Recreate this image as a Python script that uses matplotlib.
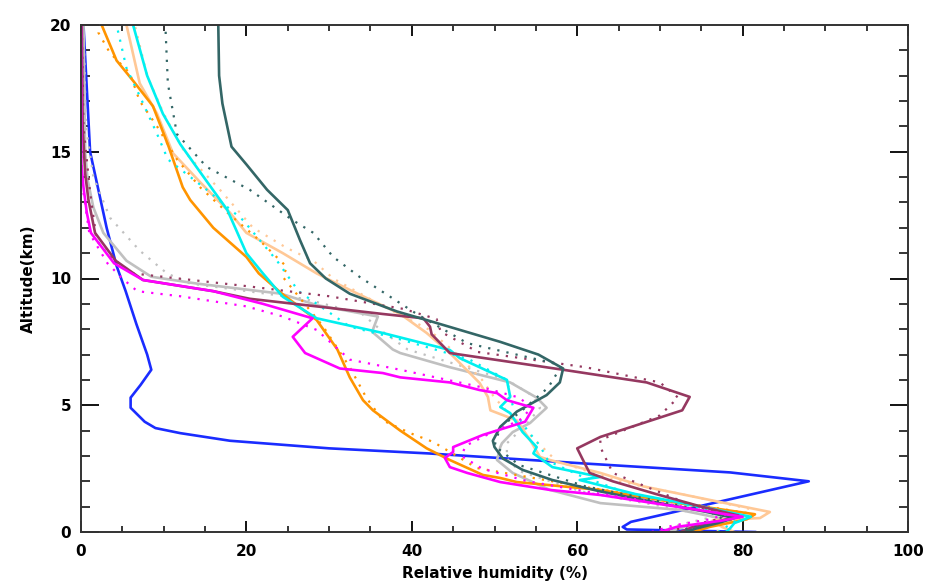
import matplotlib
matplotlib.use("Agg")
import matplotlib.pyplot as plt
from matplotlib.ticker import MultipleLocator

# ---------------- data (altitude km, relative humidity %) ----------------
blue_alt = [0.0, 0.1, 0.2, 0.4, 2.0, 2.35, 2.7, 3.1, 3.3, 3.45, 3.6, 3.9, 4.1, 4.35, 4.9, 5.3, 5.8, 6.4, 7.0, 8.2, 9.5, 10.5, 12.0, 15.0, 20.0]
blue_rh = [81.5, 66.0, 65.5, 66.5, 88.0, 78.5, 61.0, 42.0, 30.0, 24.0, 18.0, 12.0, 9.0, 7.7, 6.0, 6.0, 7.2, 8.5, 8.0, 6.7, 5.4, 4.3, 3.1, 1.1, 0.3]

slate_alt = [0.0, 0.15, 0.35, 0.55, 0.8, 1.2, 1.6, 2.05, 2.45, 2.9, 3.35, 3.6, 4.15, 4.75, 5.4, 5.9, 6.45, 7.0, 7.5, 8.36, 8.7, 9.4, 10.0, 10.6, 11.5, 12.7, 13.5, 14.5, 15.2, 16.9, 18.0, 20.0]
slate_rh = [73.0, 74.5, 77.0, 79.0, 75.5, 69.0, 62.8, 57.0, 53.4, 51.0, 50.0, 49.8, 50.7, 52.7, 56.3, 57.9, 58.3, 55.3, 50.7, 41.8, 38.2, 32.5, 29.6, 27.7, 26.5, 25.0, 22.5, 20.0, 18.2, 17.1, 16.7, 16.6]
slate_dot_alt = [0.0, 0.2, 0.45, 0.8, 1.3, 1.8, 2.64, 3.4, 4.15, 4.7, 5.7, 6.5, 6.67, 7.45, 8.6, 10.06, 10.85, 11.8, 12.3, 13.5, 14.4, 15.7, 17.7, 20.0]
slate_dot_rh = [72.0, 74.0, 78.0, 76.0, 68.5, 61.0, 53.0, 50.0, 50.7, 53.0, 56.5, 58.0, 57.0, 46.7, 40.6, 33.7, 30.5, 28.1, 25.6, 20.4, 15.2, 11.6, 10.5, 10.2]

maroon_alt = [0.0, 0.2, 0.45, 0.65, 1.0, 1.5, 2.0, 2.33, 2.84, 3.3, 3.75, 4.8, 5.33, 5.9, 6.4, 7.06, 7.8, 8.1, 8.43, 8.6, 8.9, 9.2, 9.5, 9.94, 10.7, 11.8, 13.1, 14.15, 16.0, 20.0]
maroon_rh = [72.5, 74.0, 77.5, 79.5, 75.0, 69.5, 64.3, 61.5, 60.7, 60.0, 62.8, 72.7, 73.6, 68.4, 58.3, 44.6, 42.4, 42.2, 41.4, 36.5, 28.5, 20.4, 16.0, 7.5, 4.2, 1.7, 0.9, 0.5, 0.2, 0.1]
maroon_dot_alt = [0.0, 0.25, 0.5, 0.7, 1.1, 1.78, 2.33, 3.35, 3.63, 4.6, 5.3, 5.9, 6.5, 7.1, 7.9, 8.4, 8.8, 9.3, 9.7, 10.2, 10.85, 11.5, 13.4, 16.0, 20.0]
maroon_dot_rh = [71.0, 73.5, 77.0, 78.0, 73.5, 68.4, 64.3, 62.8, 62.8, 70.0, 72.2, 70.0, 61.0, 48.0, 43.5, 43.0, 39.0, 30.0, 20.0, 6.3, 3.5, 1.9, 1.1, 0.3, 0.1]

grey_alt = [0.0, 0.2, 0.5, 0.87, 1.14, 1.66, 2.33, 2.84, 3.35, 3.5, 3.94, 4.3, 4.9, 5.3, 5.9, 6.5, 7.06, 7.2, 7.9, 8.5, 8.95, 9.4, 9.8, 10.07, 10.7, 11.8, 12.8, 13.9, 15.0, 20.0]
grey_rh = [71.0, 73.0, 78.0, 72.4, 62.8, 56.7, 52.2, 50.3, 50.7, 50.9, 52.2, 54.3, 56.3, 55.1, 51.9, 44.6, 38.6, 37.7, 35.2, 35.9, 28.5, 24.2, 14.0, 8.5, 5.5, 2.7, 1.5, 0.8, 0.5, 0.3]
grey_dot_alt = [0.0, 0.3, 0.6, 1.0, 1.6, 2.4, 2.9, 3.5, 4.3, 4.9, 5.4, 6.0, 6.6, 7.2, 7.9, 8.6, 9.2, 9.8, 10.2, 11.1, 12.4, 14.0, 16.0, 20.0]
grey_dot_rh = [70.0, 72.5, 76.5, 70.5, 60.5, 53.0, 51.5, 51.5, 54.0, 55.5, 54.5, 51.5, 45.5, 39.5, 36.5, 34.0, 27.0, 13.2, 10.4, 7.1, 3.5, 1.5, 0.6, 0.3]

magenta_alt = [0.0, 0.2, 0.45, 0.6, 1.0, 1.46, 1.66, 1.97, 2.33, 2.56, 2.92, 3.16, 3.35, 3.83, 4.35, 4.9, 5.2, 5.48, 5.6, 5.9, 6.1, 6.27, 6.45, 7.06, 7.7, 8.43, 9.0, 9.5, 9.94, 10.6, 11.8, 12.6, 13.6, 14.5, 20.0]
magenta_rh = [70.0, 72.0, 77.5, 80.0, 72.0, 62.8, 56.7, 50.7, 46.7, 44.6, 44.0, 45.0, 45.0, 48.6, 53.7, 54.7, 51.5, 50.3, 48.2, 44.6, 38.6, 36.5, 31.3, 27.1, 25.6, 28.0, 22.0, 16.0, 7.5, 4.0, 1.2, 0.7, 0.3, 0.05, 0.0]
magenta_dot_alt = [0.0, 0.25, 0.5, 0.7, 1.1, 1.6, 2.0, 2.5, 3.0, 3.4, 3.9, 4.4, 4.9, 5.3, 5.7, 6.4, 6.8, 7.97, 8.5, 8.9, 9.3, 9.5, 10.0, 10.6, 11.8, 13.6, 15.0, 20.0]
magenta_dot_rh = [69.0, 71.5, 76.0, 78.0, 71.0, 61.0, 54.0, 48.5, 46.0, 46.5, 49.5, 53.0, 54.5, 53.0, 48.6, 38.6, 32.5, 28.5, 24.4, 20.0, 12.0, 6.8, 5.0, 3.2, 1.0, 0.2, 0.0, 0.0]

orange_alt = [0.0, 0.2, 0.5, 0.7, 1.1, 1.66, 1.97, 2.13, 2.25, 2.84, 3.3, 4.0, 4.8, 5.2, 6.1, 7.2, 8.36, 9.4, 10.2, 10.85, 12.0, 13.1, 13.6, 15.2, 16.8, 17.8, 18.6, 20.0]
orange_rh = [74.0, 76.0, 80.5, 81.5, 73.0, 62.8, 52.7, 50.7, 48.6, 44.6, 41.8, 38.6, 35.3, 34.1, 32.5, 31.0, 28.5, 24.3, 21.5, 20.0, 16.0, 13.2, 12.3, 10.6, 8.7, 6.3, 4.3, 2.5]
orange_dot_alt = [0.0, 0.25, 0.55, 0.75, 1.2, 1.8, 2.52, 3.55, 3.9, 4.4, 5.3, 6.5, 8.1, 10.06, 10.45, 11.5, 12.6, 13.6, 14.7, 16.0, 17.0, 18.1, 18.9, 19.7, 20.0]
orange_dot_rh = [73.0, 75.5, 79.5, 80.5, 72.0, 60.5, 47.9, 42.6, 39.8, 36.5, 34.5, 32.5, 29.3, 24.4, 24.9, 21.6, 17.7, 14.4, 11.6, 9.2, 7.1, 5.9, 3.5, 2.1, 2.0]

cyan_alt = [0.0, 0.15, 0.35, 0.6, 1.0, 1.5, 2.05, 2.17, 2.56, 3.1, 3.35, 3.94, 4.69, 4.93, 5.33, 6.0, 6.86, 7.18, 7.85, 8.43, 9.28, 10.2, 11.0, 12.7, 14.2, 15.3, 16.5, 18.0, 20.0]
cyan_rh = [78.0, 78.5, 79.0, 81.0, 75.0, 67.0, 60.3, 62.8, 57.0, 54.7, 55.1, 53.4, 51.9, 50.7, 51.9, 51.5, 45.8, 44.6, 36.5, 28.5, 24.4, 22.0, 20.0, 17.7, 14.4, 12.0, 9.9, 8.0, 6.3]
cyan_dot_alt = [0.0, 0.3, 0.6, 1.0, 1.6, 2.2, 2.8, 3.4, 4.0, 4.7, 5.2, 6.0, 6.8, 7.6, 8.1, 9.5, 10.7, 12.3, 13.5, 14.7, 15.7, 17.2, 18.3, 20.0]
cyan_dot_rh = [77.0, 78.5, 80.0, 74.0, 65.5, 60.5, 56.5, 55.5, 54.0, 52.5, 52.0, 51.5, 47.0, 38.6, 32.5, 26.3, 23.7, 19.6, 15.2, 10.5, 9.2, 7.1, 5.5, 4.3]

peach_alt = [0.0, 0.2, 0.47, 0.55, 0.79, 1.2, 1.8, 2.33, 2.84, 2.96, 3.63, 4.4, 4.8, 5.33, 5.88, 7.06, 7.85, 8.6, 9.55, 10.2, 11.0, 11.8, 12.6, 13.8, 14.95, 16.5, 17.7, 20.0]
peach_rh = [79.0, 77.5, 76.4, 82.1, 83.3, 77.0, 68.0, 62.8, 56.7, 55.5, 54.3, 52.7, 49.5, 49.2, 48.2, 44.6, 41.8, 38.6, 32.5, 28.5, 24.4, 20.0, 18.0, 14.4, 11.1, 9.2, 7.1, 5.5]
peach_dot_alt = [0.0, 0.3, 0.6, 0.9, 1.4, 2.0, 2.8, 3.6, 4.4, 5.3, 6.0, 7.0, 8.0, 9.0, 10.0, 10.7, 11.2, 12.0, 13.5, 15.0, 16.5, 18.0, 20.0]
peach_dot_rh = [77.0, 77.0, 81.5, 81.0, 74.0, 65.0, 57.5, 55.0, 52.5, 50.0, 48.5, 45.5, 42.0, 36.0, 30.5, 28.1, 24.9, 20.8, 16.8, 12.5, 10.0, 8.0, 6.5]

x_label = "Relative humidity (%)"
y_label = "Altitude(km)"

# ---------------- plot ----------------
plt.rcParams['font.family'] = ['DejaVu Sans']
fig = plt.figure(figsize=(9.32, 5.85), dpi=100)
ax = fig.add_axes([81/932, 53/585, (908-81)/932, (532-25)/585])

solid_lw = 1.9
dot_style = (0, (1.0, 3.2))
dot_lw = 1.6

series = [
    (blue_rh, blue_alt, None, None, "#1a2cff"),
    (grey_rh, grey_alt, grey_dot_rh, grey_dot_alt, "#c0c0c0"),
    (peach_rh, peach_alt, peach_dot_rh, peach_dot_alt, "#ffc896"),
    (orange_rh, orange_alt, orange_dot_rh, orange_dot_alt, "#ff9400"),
    (cyan_rh, cyan_alt, cyan_dot_rh, cyan_dot_alt, "#00f0f0"),
    (maroon_rh, maroon_alt, maroon_dot_rh, maroon_dot_alt, "#953860"),
    (slate_rh, slate_alt, slate_dot_rh, slate_dot_alt, "#336666"),
    (magenta_rh, magenta_alt, magenta_dot_rh, magenta_dot_alt, "#ff00ff"),
]
for rh, alt, drh, dalt, col in series:
    if drh is not None:
        ax.plot(drh, dalt, color=col, lw=dot_lw, linestyle=dot_style, solid_capstyle='butt')
    ax.plot(rh, alt, color=col, lw=solid_lw)

ax.set_xlim(0, 100)
ax.set_ylim(0, 20)
ax.xaxis.set_major_locator(MultipleLocator(20))
ax.xaxis.set_minor_locator(MultipleLocator(5))
ax.yaxis.set_major_locator(MultipleLocator(5))
ax.yaxis.set_minor_locator(MultipleLocator(1))
ax.tick_params(axis='x', which='major', direction='in', length=8, width=1.3, top=True, bottom=True)
ax.tick_params(axis='x', which='minor', direction='in', length=4.5, width=1.1, top=True, bottom=True)
ax.tick_params(axis='y', which='major', direction='in', length=13, width=1.3, left=True, right=True)
ax.tick_params(axis='y', which='minor', direction='in', length=6.5, width=1.1, left=True, right=True)
ax.tick_params(axis='x', which='major', labelsize=11, pad=9)
ax.tick_params(axis='y', which='major', labelsize=11, pad=7)
for lab in ax.get_xticklabels() + ax.get_yticklabels():
    lab.set_fontweight('bold')
for sp in ax.spines.values():
    sp.set_linewidth(1.4)
    sp.set_color('#333333')

ax.set_xlabel(x_label, fontsize=11, fontweight='bold', labelpad=5)
ax.set_ylabel(y_label, fontsize=11, fontweight='bold', labelpad=10)

fig.savefig("out.png", dpi=100)
